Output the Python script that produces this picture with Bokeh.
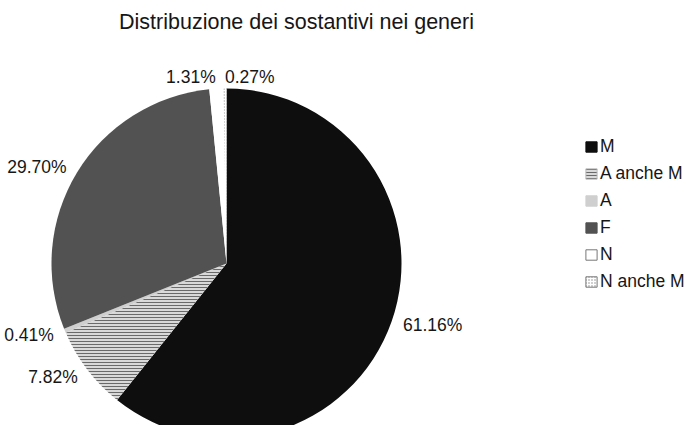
import numpy as np
from bokeh.plotting import figure
from bokeh.models import ColumnDataSource, Range1d, Legend, LegendItem, Label
from bokeh.core.properties import value
from bokeh.embed import file_html
from bokeh.resources import INLINE

# ---- data ----
title = "Distribuzione dei sostantivi nei generi"
categories = ["M", "A anche M", "A", "F", "N", "N anche M"]
percent = [61.16, 7.82, 0.41, 29.70, 1.31, 0.27]
labels = ["61.16%", "7.82%", "0.41%", "29.70%", "1.31%", "0.27%"]

# ---- styles ----
FONT = "Liberation Sans"
fill_colors = ["#0e0e0e", "#d9d9d9", "#cfcfcf", "#525252", "#ffffff", "#ffffff"]
hatch_patterns = ["blank", "horizontal_line", "blank", "blank", "blank", "dot"]
hatch_colors = ["#000000", "#6a6a6a", "#000000", "#000000", "#000000", "#8a8a8a"]
legend_line = [None, "#bbbbbb", None, None, "#777777", "#777777"]
label_align = ["left", "right", "right", "right", "right", "left"]

W, H = 686, 425
cx, cy, R = 226, 162, 175
r_label = 187

p = figure(width=W, height=H, x_range=Range1d(0, W), y_range=Range1d(0, H),
           output_backend="svg", toolbar_location=None, min_border=0,
           x_axis_location=None, y_axis_location=None)
p.grid.visible = False
p.outline_line_color = None
p.background_fill_color = "white"

vals = np.array(percent, dtype=float)
frac = vals / vals.sum()
cum = np.concatenate([[0.0], np.cumsum(frac)])
start = np.pi / 2 - 2 * np.pi * cum[:-1]
end = np.pi / 2 - 2 * np.pi * cum[1:]
mid = 2 * np.pi * (cum[:-1] + cum[1:]) / 2  # clockwise from top

src = ColumnDataSource(dict(cat=categories, start=start, end=end, color=fill_colors,
                            hatch=hatch_patterns, hcolor=hatch_colors))
p.wedge(x=cx, y=cy, radius=R, start_angle="start", end_angle="end", direction="clock",
        fill_color="color", line_color=None, hatch_pattern="hatch", hatch_color="hcolor",
        hatch_scale=3, hatch_weight=1, source=src)

lsrc = ColumnDataSource(dict(x=cx + r_label * np.sin(mid), y=cy + r_label * np.cos(mid),
                             text=labels, align=label_align))
p.text(x="x", y="y", text="text", text_align="align", text_baseline="middle",
       text_font=value(FONT), text_font_size="17.5px", text_color="#161616", source=lsrc)

# legend proxies (placed outside the visible ranges)
items = []
for i, c in enumerate(categories):
    r = p.rect(x=[-1000], y=[-1000], width=1, height=1, fill_color=fill_colors[i],
               line_color=legend_line[i] if legend_line[i] else fill_colors[i],
               hatch_pattern=hatch_patterns[i], hatch_color=hatch_colors[i],
               hatch_scale=3, hatch_weight=1)
    items.append(LegendItem(label=c, renderers=[r]))

legend = Legend(items=items, location=(584, 133), orientation="vertical",
                glyph_width=14, glyph_height=13, label_standoff=2,
                label_text_font=FONT, label_text_font_size="17.5px", label_text_color="#161616",
                label_height=20, spacing=6, padding=0, margin=0,
                border_line_color=None, background_fill_alpha=0)
p.add_layout(legend)

p.add_layout(Label(x=296, y=404, text=title, text_align="center", text_baseline="middle",
                   text_font=FONT, text_font_size="21.5px", text_color="#161616"))

open("out.html", "w").write(file_html(p, INLINE))
